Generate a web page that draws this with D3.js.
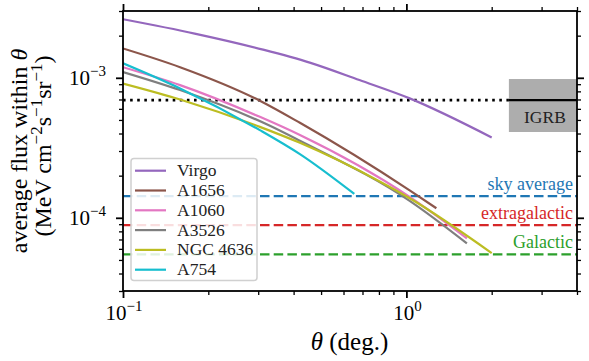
<!DOCTYPE html>
<html>
<head>
<meta charset="utf-8">
<script src="https://cdn.jsdelivr.net/npm/d3@7"></script>
<style>
  body { margin: 0; background: #fff; }
</style>
</head>
<body>
<svg id="chart" width="589" height="361" font-family="'Liberation Serif', serif"></svg>
<script>
// values: [theta (deg), flux]
const virgo   = [[0.1, 2.62e-3], [0.179, 2.07e-3], [0.312, 1.59e-3], [0.456, 1.284e-3], [0.683, 9.63e-4], [1.027, 7.13e-4], [2.0, 3.75e-4]];
const a1656   = [[0.1, 1.62e-3], [0.159, 1.19e-3], [0.304, 6.86e-4], [0.421, 4.77e-4], [1.027, 1.57e-4], [1.276, 1.17e-4]];
const a1060   = [[0.1, 1.19e-3], [0.159, 8.87e-4], [0.304, 5.26e-4], [0.421, 3.90e-4], [1.027, 1.41e-4], [1.635, 7.13e-5]];
const a3526   = [[0.1, 1.10e-3], [0.159, 8.17e-4], [0.33, 4.54e-4], [0.421, 3.55e-4], [1.027, 1.32e-4], [1.635, 6.56e-5]];
const ngc4636 = [[0.1, 9.1e-4], [0.159, 7.0e-4], [0.304, 4.46e-4], [0.421, 3.43e-4], [0.808, 1.81e-4], [1.027, 1.38e-4], [2.0, 5.6e-5]];
const a754    = [[0.1, 1.27e-3], [0.159, 8.4e-4], [0.304, 4.23e-4], [0.421, 2.85e-4], [0.655, 1.48e-4]];

const clusterNames  = ["Virgo", "A1656", "A1060", "A3526", "NGC 4636", "A754"];
const clusterColors = ["#9467bd", "#8c564b", "#e377c2", "#7f7f7f", "#bcbd22", "#17becf"];

// reference levels
const levelNames  = ["sky average", "extragalactic", "Galactic"];
const levelValues = [1.43e-4, 8.87e-5, 5.48e-5];
const levelColors = ["#1f77b4", "#d62728", "#2ca02c"];

const igrbValue = 6.93e-4;
const igrbBand  = [4.1e-4, 9.8e-4];
const igrbThetaRange = [2.3, 4];

const xMajorTicks = [0.1, 1];
const xTickExps   = ["−1", "0"];
const yMajorTicks = [1e-4, 1e-3];
const yTickExps   = ["−4", "−3"];

const width = 589, height = 361;
const margin = {left: 123, right: 12, top: 11, bottom: 70};

const svg = d3.select("#chart");

const x = d3.scaleLog().domain([0.1, 4]).range([margin.left, width - margin.right]);
const y = d3.scaleLog().domain([3e-5, 3e-3]).range([height - margin.bottom, margin.top]);

const x0 = x.range()[0], x1 = x.range()[1];
const y0 = y.range()[1], y1 = y.range()[0];

// minor ticks 2..9 x 10^k inside the domain
function minorTicks(scale) {
    const [lo, hi] = scale.domain();
    const out = [];
    for (let e = Math.floor(Math.log10(lo)); e <= Math.ceil(Math.log10(hi)); e++) {
        for (let m = 2; m <= 9; m++) {
            const v = m * Math.pow(10, e);
            if (v >= lo * 0.999 && v <= hi * 1.001) out.push(v);
        }
    }
    return out;
}

const plot = svg.append("g");
plot.append("clipPath").attr("id", "clip")
    .append("rect").attr("x", x0).attr("y", y0).attr("width", x1 - x0).attr("height", y1 - y0);
const inner = plot.append("g").attr("clip-path", "url(#clip)");

// IGRB band and line
inner.append("rect")
    .attr("x", x(igrbThetaRange[0]))
    .attr("y", y(igrbBand[1]))
    .attr("width", x(igrbThetaRange[1]) - x(igrbThetaRange[0]))
    .attr("height", y(igrbBand[0]) - y(igrbBand[1]))
    .attr("fill", "#adadad");

inner.append("line")
    .attr("x1", x(0.1)).attr("x2", x(igrbThetaRange[0]))
    .attr("y1", y(igrbValue)).attr("y2", y(igrbValue))
    .attr("stroke", "black").attr("stroke-width", 2.6)
    .attr("stroke-dasharray", "2.6,4.5");

inner.append("line")
    .attr("x1", x(igrbThetaRange[0])).attr("x2", x(4))
    .attr("y1", y(igrbValue)).attr("y2", y(igrbValue))
    .attr("stroke", "black").attr("stroke-width", 2.2);

inner.append("text")
    .attr("x", (x(igrbThetaRange[0]) + x(igrbThetaRange[1])) / 2 + 2)
    .attr("y", y(igrbValue) + 23)
    .attr("text-anchor", "middle")
    .attr("font-size", 17.5)
    .attr("fill", "#222")
    .text("IGRB");

// dashed reference levels
levelValues.forEach((v, i) => {
    inner.append("line")
        .attr("x1", x(0.1)).attr("x2", x(4))
        .attr("y1", y(v)).attr("y2", y(v))
        .attr("stroke", levelColors[i]).attr("stroke-width", 2.2)
        .attr("stroke-dasharray", "9.5,4.2");
    inner.append("text")
        .attr("x", x1 - 4)
        .attr("y", y(v) - 6)
        .attr("text-anchor", "end")
        .attr("font-size", 18)
        .attr("fill", levelColors[i])
        .text(levelNames[i]);
});

// cluster curves
const line = d3.line()
    .x(d => x(d[0]))
    .y(d => y(d[1]))
    .curve(d3.curveMonotoneX);

const clusters = [virgo, a1656, a1060, a3526, ngc4636, a754];
clusters.forEach((pts, i) => {
    inner.append("path")
        .datum(pts)
        .attr("d", line)
        .attr("fill", "none")
        .attr("stroke", clusterColors[i])
        .attr("stroke-width", 2.2);
});

// axes: ticks on all four sides, pointing out
function addTicks(axisFn, scale, major, minor, transform) {
    const gMaj = svg.append("g").attr("transform", transform)
        .call(axisFn(scale).tickValues(major).tickSize(7).tickSizeOuter(0).tickFormat(""));
    const gMin = svg.append("g").attr("transform", transform)
        .call(axisFn(scale).tickValues(minor).tickSize(4).tickSizeOuter(0).tickFormat(""));
    [gMaj, gMin].forEach(g => g.select(".domain").remove());
    gMaj.selectAll("line").attr("stroke-width", 1.8);
    gMin.selectAll("line").attr("stroke-width", 1.3);
}
const xMinor = minorTicks(x), yMinor = minorTicks(y);
addTicks(d3.axisBottom, x, xMajorTicks, xMinor, `translate(0,${y1})`);
addTicks(d3.axisTop, x, xMajorTicks, xMinor, `translate(0,${y0})`);
addTicks(d3.axisLeft, y, yMajorTicks, yMinor, `translate(${x0},0)`);
addTicks(d3.axisRight, y, yMajorTicks, yMinor, `translate(${x1},0)`);

svg.append("rect")
    .attr("x", x0).attr("y", y0).attr("width", x1 - x0).attr("height", y1 - y0)
    .attr("fill", "none").attr("stroke", "black").attr("stroke-width", 1.8);

// tick labels 10^k
xMajorTicks.forEach((v, i) => {
    const t = svg.append("text")
        .attr("x", x(v) + 1).attr("y", y1 + 29)
        .attr("text-anchor", "middle")
        .attr("font-size", 21);
    t.append("tspan").text("10");
    t.append("tspan").attr("dy", -9).attr("font-size", 15).text(xTickExps[i]);
});
yMajorTicks.forEach((v, i) => {
    const t = svg.append("text")
        .attr("x", x0 - 17).attr("y", y(v) + 7)
        .attr("text-anchor", "end")
        .attr("font-size", 21);
    t.append("tspan").text("10");
    t.append("tspan").attr("dy", -9).attr("font-size", 15).text(yTickExps[i]);
});

// axis labels
const xl = svg.append("text")
    .attr("x", 349.5).attr("y", 350)
    .attr("text-anchor", "middle")
    .attr("font-size", 25);
xl.append("tspan").attr("font-style", "italic").text("θ");
xl.append("tspan").text(" (deg.)");

const cy = (y0 + y1) / 2;
const yl1 = svg.append("text")
    .attr("transform", `translate(27,${cy}) rotate(-90)`)
    .attr("text-anchor", "middle")
    .attr("font-size", 24);
yl1.append("tspan").text("average flux within ");
yl1.append("tspan").attr("font-style", "italic").text("θ");

const yl2 = svg.append("text")
    .attr("transform", `translate(51,${cy - 5}) rotate(-90)`)
    .attr("text-anchor", "middle")
    .attr("font-size", 24);
yl2.append("tspan").text("(MeV cm");
yl2.append("tspan").attr("dy", -9).attr("font-size", 17).text("−2");
yl2.append("tspan").attr("dy", 9).text("s");
yl2.append("tspan").attr("dy", -9).attr("font-size", 17).text("−1");
yl2.append("tspan").attr("dy", 9).text("sr");
yl2.append("tspan").attr("dy", -9).attr("font-size", 17).text("−1");
yl2.append("tspan").attr("dy", 9).text(")");

// legend
const legend = svg.append("g");
legend.append("rect")
    .attr("x", 131).attr("y", 158.5).attr("width", 126).attr("height", 122)
    .attr("rx", 3).attr("fill", "white").attr("fill-opacity", 0.85)
    .attr("stroke", "#d0d0d0").attr("stroke-width", 1.5);
clusterNames.forEach((name, i) => {
    const ry = 170.7 + i * 19.8;
    legend.append("line")
        .attr("x1", 135).attr("x2", 166)
        .attr("y1", ry).attr("y2", ry)
        .attr("stroke", clusterColors[i]).attr("stroke-width", 2.2);
    legend.append("text")
        .attr("x", 177).attr("y", ry + 5.5)
        .attr("font-size", 17.5)
        .attr("fill", "#222")
        .text(name);
});
</script>
</body>
</html>
